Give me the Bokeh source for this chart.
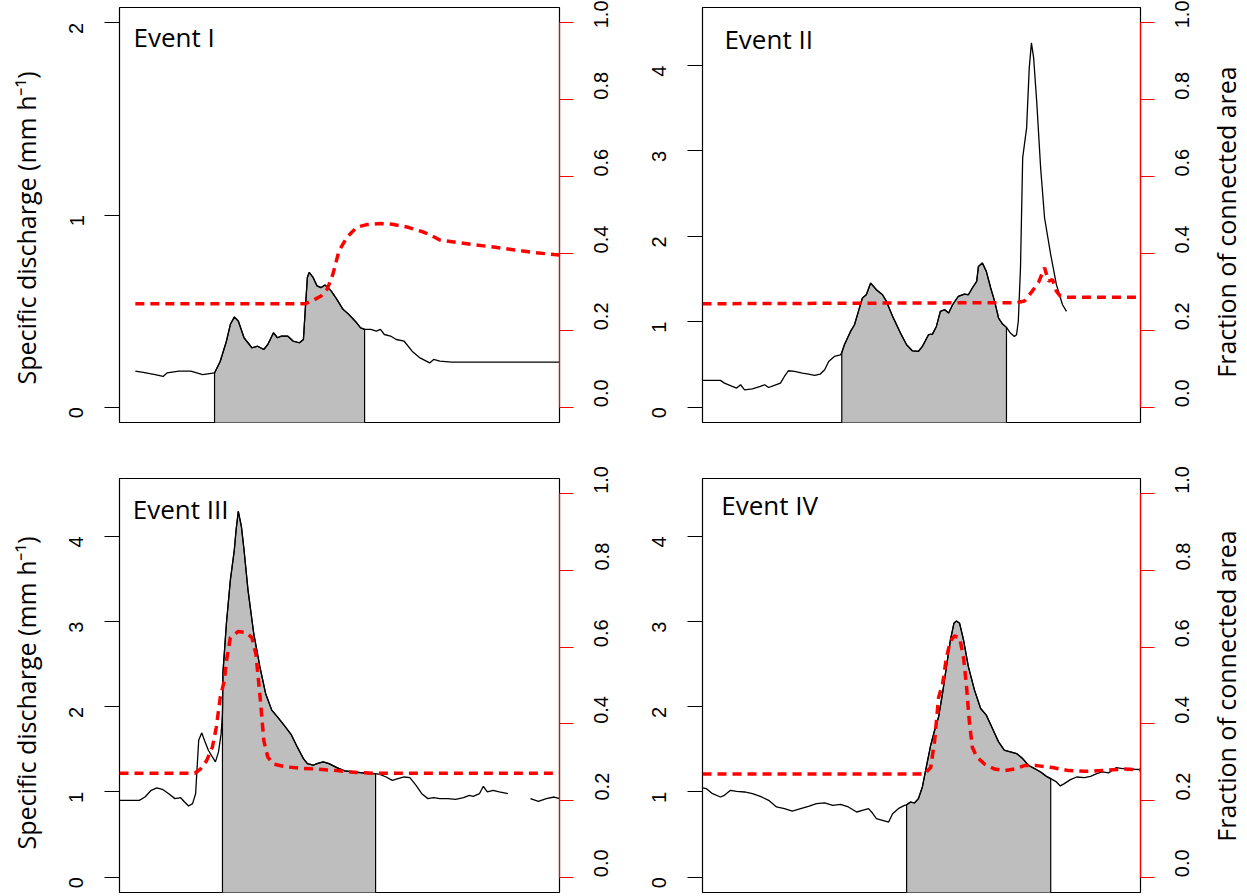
import math
from bokeh.plotting import figure
from bokeh.models import Range1d, LinearAxis, FixedTicker, PrintfTickFormatter, Label
from bokeh.core.properties import value
from bokeh.layouts import column, row
from bokeh.embed import file_html
from bokeh.resources import INLINE

# ---------------- data (time as % of event window) ----------------
ev1_t = [3.6, 5.4, 8.1, 9.9, 10.8, 13.5, 16.2, 18.9, 21.6, 22.9, 24.3, 25.2, 26.1, 27.0, 28.3, 30.1, 31.4, 32.8, 33.7,
         35.0, 35.9, 36.8, 38.2, 39.5, 40.9, 41.8, 42.2, 42.7, 43.1, 44.0, 44.9, 45.8, 46.7, 48.1, 49.4, 50.8, 52.1,
         53.9, 54.8, 55.7, 57.1, 58.4, 59.3, 60.2, 61.6, 62.9, 64.7, 66.5, 68.3, 70.5, 71.4, 72.8, 75.5, 80.9, 89.8, 100.0]
ev1_q = [0.187, 0.181, 0.169, 0.160, 0.178, 0.187, 0.187, 0.169, 0.178, 0.239, 0.343, 0.431, 0.469, 0.448, 0.361, 0.309,
         0.317, 0.300, 0.326, 0.387, 0.361, 0.370, 0.370, 0.343, 0.335, 0.352, 0.500, 0.675, 0.701, 0.675, 0.631, 0.622,
         0.636, 0.605, 0.561, 0.509, 0.483, 0.439, 0.413, 0.405, 0.405, 0.396, 0.405, 0.378, 0.370, 0.352, 0.343, 0.291,
         0.256, 0.230, 0.248, 0.239, 0.234, 0.234, 0.234, 0.234]
ev1_ft = [3.6, 42.2, 44.0, 45.8, 47.2, 48.5, 49.9, 51.7, 53.9, 56.2, 59.3, 62.0, 65.6, 69.2, 71.0, 72.8, 76.4, 80.9,
          85.4, 89.8, 94.3, 100.0]
ev1_f = [0.269, 0.269, 0.278, 0.289, 0.307, 0.346, 0.407, 0.442, 0.468, 0.475, 0.478, 0.476, 0.468, 0.455, 0.446, 0.435,
         0.429, 0.422, 0.416, 0.409, 0.402, 0.396]
ev1_fill = (21.6, 55.7)

ev2_t = [0.0, 4.1, 5.0, 6.8, 7.8, 8.7, 9.6, 11.4, 13.2, 14.2, 15.1, 16.4, 17.8, 18.7, 19.6, 21.0, 22.8, 24.2, 25.6, 26.9,
         27.9, 28.8, 30.1, 31.5, 31.8, 32.4, 33.8, 34.7, 35.6, 36.5, 37.4, 38.4, 39.7, 41.1, 42.0, 43.4, 45.2, 46.6, 47.9,
         49.3, 50.2, 51.6, 52.5, 53.4, 54.3, 55.3, 56.2, 57.1, 58.4, 59.8, 60.7, 61.6, 62.6, 63.0, 63.9, 64.8, 65.8, 66.7,
         67.6, 68.5, 69.4, 70.3, 71.2, 71.7, 72.1, 72.6, 73.1, 74.0, 74.6, 75.1, 75.6, 76.3, 77.2, 78.1, 79.5, 80.8, 82.2, 83.1]
ev2_q = [0.313, 0.313, 0.281, 0.242, 0.223, 0.262, 0.203, 0.215, 0.242, 0.262, 0.230, 0.254, 0.281, 0.359, 0.426, 0.418,
         0.398, 0.387, 0.371, 0.387, 0.438, 0.535, 0.594, 0.613, 0.640, 0.730, 0.887, 0.965, 1.121, 1.277, 1.316, 1.453,
         1.375, 1.316, 1.238, 1.063, 0.867, 0.730, 0.660, 0.652, 0.711, 0.848, 0.855, 0.945, 1.121, 1.141, 1.102, 1.199,
         1.297, 1.324, 1.316, 1.395, 1.473, 1.648, 1.688, 1.590, 1.395, 1.238, 1.043, 0.973, 0.934, 0.867, 0.828, 0.848,
         1.004, 1.629, 2.918, 3.270, 3.973, 4.266, 4.090, 3.582, 2.801, 2.215, 1.785, 1.434, 1.199, 1.121]
ev2_ft = [0.0, 71.7, 73.5, 75.3, 76.7, 78.1, 79.0, 79.9, 80.8, 81.7, 82.6, 86.3, 100.0]
ev2_f = [0.269, 0.272, 0.276, 0.302, 0.324, 0.363, 0.328, 0.332, 0.302, 0.289, 0.286, 0.286, 0.286]
ev2_fill = (31.8, 69.4)

nan = float("nan")
ev3_t = [0.0, 4.5, 5.8, 7.2, 8.5, 9.9, 11.2, 12.6, 13.9, 14.8, 15.7, 16.6, 17.3, 18.0, 18.7, 19.3, 20.2, 21.1, 21.8, 22.5,
         23.1, 23.4, 23.5, 24.3, 25.2, 26.1, 26.5, 27.0, 27.7, 28.3, 29.2, 30.5, 31.9, 33.2, 34.6, 35.9, 37.7, 39.1, 40.4,
         41.8, 42.7, 44.0, 44.9, 46.3, 47.6, 49.4, 51.2, 53.0, 54.8, 56.6, 58.2, 59.3, 60.6, 62.0, 63.3, 64.7, 66.0, 67.4,
         68.7, 70.1, 71.4, 72.8, 74.6, 76.4, 78.2, 79.5, 80.4, 81.8, 82.7, 83.6, 84.9, 86.3, 88.3, 90.0, 93.4, 95.2, 97.0,
         98.8, 100.0]
ev3_q = [0.902, 0.902, 0.941, 1.020, 1.047, 1.027, 0.980, 0.922, 0.933, 0.882, 0.835, 0.863, 0.980, 1.608, 1.694, 1.608,
         1.490, 1.412, 1.353, 1.471, 1.686, 1.922, 2.392, 2.980, 3.490, 3.843, 4.078, 4.294, 4.118, 3.843, 3.373, 2.863,
         2.471, 2.157, 1.961, 1.882, 1.765, 1.667, 1.529, 1.392, 1.333, 1.314, 1.333, 1.353, 1.333, 1.286, 1.247, 1.235,
         1.227, 1.216, 1.216, 1.204, 1.176, 1.137, 1.157, 1.176, 1.169, 1.078, 0.980, 0.922, 0.933, 0.922, 0.922, 0.914,
         0.933, 0.961, 0.949, 0.980, 1.067, 1.000, 1.020, 1.000, 0.980, nan, 0.922, 0.890, 0.922, 0.941, 0.922]
ev3_ft = [0.0, 17.1, 18.4, 19.8, 21.1, 22.0, 22.9, 23.8, 24.3, 25.2, 27.0, 28.8, 30.1, 31.0, 31.6, 32.1, 32.8, 33.7,
          35.0, 37.7, 41.3, 44.9, 49.4, 53.9, 58.4, 100.0]
ev3_f = [0.271, 0.271, 0.282, 0.304, 0.339, 0.391, 0.469, 0.512, 0.564, 0.625, 0.641, 0.638, 0.625, 0.582, 0.512, 0.451,
         0.356, 0.313, 0.295, 0.288, 0.284, 0.282, 0.278, 0.273, 0.271, 0.271]
ev3_fill = (23.4, 58.2)

ev4_t = [0.0, 0.9, 2.3, 4.1, 5.0, 6.4, 7.8, 9.6, 11.4, 13.2, 15.1, 16.9, 18.7, 20.5, 22.4, 24.2, 26.0, 27.9, 29.7, 31.5,
         33.3, 35.2, 36.5, 37.9, 38.8, 39.7, 41.1, 42.5, 43.4, 44.7, 46.1, 46.6, 47.5, 48.4, 49.3, 50.2, 51.1, 52.1, 53.0,
         53.9, 54.8, 55.7, 56.6, 57.4, 58.0, 58.7, 59.6, 60.7, 62.1, 63.5, 64.8, 66.2, 67.6, 68.9, 70.3, 71.7, 73.1, 74.4,
         75.8, 77.2, 78.5, 79.5, 80.8, 81.7, 82.6, 84.0, 85.4, 87.2, 88.6, 90.0, 91.3, 92.7, 94.5, 95.9, 97.3, 98.6, 100.0]
ev4_q = [1.047, 1.039, 0.980, 0.941, 0.961, 1.020, 1.008, 1.000, 0.980, 0.949, 0.902, 0.824, 0.804, 0.776, 0.804, 0.831,
         0.863, 0.871, 0.843, 0.855, 0.824, 0.765, 0.784, 0.804, 0.753, 0.686, 0.667, 0.647, 0.745, 0.804, 0.843, 0.850,
         0.882, 0.871, 0.922, 1.059, 1.294, 1.549, 1.725, 1.882, 2.157, 2.471, 2.784, 2.980, 3.008, 2.980, 2.784, 2.471,
         2.196, 1.980, 1.902, 1.745, 1.588, 1.490, 1.471, 1.451, 1.392, 1.314, 1.275, 1.235, 1.184, 1.157, 1.118, 1.071,
         1.098, 1.145, 1.176, 1.169, 1.184, 1.216, 1.235, 1.224, 1.286, 1.275, 1.275, 1.267, 1.263]
ev4_ft = [0.0, 50.7, 52.1, 53.0, 53.9, 54.8, 55.7, 56.6, 57.5, 58.7, 59.6, 60.3, 60.9, 61.6, 62.6, 64.4, 66.7, 68.9,
          71.2, 73.5, 76.3, 79.9, 83.6, 87.2, 90.9, 93.6, 96.3, 100.0]
ev4_f = [0.269, 0.269, 0.286, 0.356, 0.469, 0.503, 0.573, 0.616, 0.629, 0.625, 0.573, 0.495, 0.408, 0.339, 0.314, 0.295,
         0.282, 0.278, 0.282, 0.291, 0.291, 0.286, 0.278, 0.276, 0.278, 0.280, 0.282, 0.280]
ev4_fill = (46.6, 79.5)

event_names = ["Event I", "Event II", "Event III", "Event IV"]
q_limits = [2.0, 4.5, 4.5, 4.5]
q_ticks = [[0, 1, 2], [0, 1, 2, 3, 4], [0, 1, 2, 3, 4], [0, 1, 2, 3, 4]]
frac_ticks = [0.0, 0.2, 0.4, 0.6, 0.8, 1.0]
left_title = "Specific discharge (mm h\u207b\u00b9)"
right_title = "Fraction of connected area"

TITLE_FONT = "Open Sans"
TICK_FONT = "Liberation Sans"

# row geometry: (border_top, frame_height, border_bottom)
ROW_GEOM = [(7, 415, 28), (28, 414, 2)]


def make_panel(t, q, ft, f, fill, qmax, qticks, name, name_xy, col, rowi):
    if col == 0:
        mbl, fw, mbr = 73, 440, 71
    else:
        mbl, fw, mbr = 72, 438, 65
    mbt, fh, mbb = ROW_GEOM[rowi]
    p = figure(frame_width=fw, frame_height=fh,
               min_border_left=mbl, min_border_right=mbr, min_border_top=mbt, min_border_bottom=mbb,
               x_range=Range1d(0, 100), y_range=Range1d(-0.04 * qmax, 1.04 * qmax),
               x_axis_location=None, y_axis_location="left",
               output_backend="svg", toolbar_location=None, tools="")
    p.grid.grid_line_color = None
    p.outline_line_color = "black"
    p.outline_line_width = 1.2
    p.outline_line_alpha = 1.0
    p.background_fill_color = "white"
    p.border_fill_color = "white"

    yax = p.left[0]
    yax.ticker = FixedTicker(ticks=qticks)
    yax.bounds = (0, qticks[-1])
    yax.axis_line_color = None
    yax.major_tick_out = 15
    yax.major_tick_in = 0
    yax.major_tick_line_color = "black"
    yax.major_tick_line_width = 1.2
    yax.minor_tick_line_color = None
    yax.major_label_text_font = TICK_FONT
    yax.major_label_text_font_size = "20px"
    yax.major_label_text_color = "black"
    yax.major_label_orientation = math.pi / 2
    yax.major_label_standoff = 28

    p.extra_y_ranges = {"frac": Range1d(-0.04, 1.04)}
    rax = LinearAxis(y_range_name="frac", ticker=FixedTicker(ticks=frac_ticks),
                     formatter=PrintfTickFormatter(format="%.1f"), bounds=(0, 1))
    rax.axis_line_color = "red"
    rax.axis_line_width = 1.2
    rax.major_tick_out = 14
    rax.major_tick_in = 0
    rax.major_tick_line_color = "red"
    rax.major_tick_line_width = 1.2
    rax.minor_tick_line_color = None
    rax.major_label_text_font = TICK_FONT
    rax.major_label_text_font_size = "20px"
    rax.major_label_text_color = "black"
    rax.major_label_orientation = math.pi / 2
    rax.major_label_standoff = 28
    p.add_layout(rax, "right")

    # shaded event area under the hydrograph
    fs, fe = fill
    sel = [i for i, x in enumerate(t) if fs <= x <= fe]
    px = [fs] + [t[i] for i in sel] + [fe]
    base = -1.0
    py = [base] + [q[i] for i in sel] + [base]
    p.patch(px, py, fill_color="#BEBEBE", line_color="black", line_width=1.2)

    p.line(t, q, line_color="black", line_width=1.3)
    p.line(ft, f, y_range_name="frac", line_color="red", line_width=3.5, line_dash="9 6")

    p.add_layout(Label(x=name_xy[0], y=name_xy[1], text=name, text_font=TITLE_FONT,
                       text_font_size="26px", text_color="black", text_baseline="alphabetic"))
    return p


def title_strip(text, rowi, width, xc, yc_page, page_top):
    # a narrow, axis-less strip whose frame lines up with the panels' frames;
    # its y range is expressed in page pixels (top -> bottom)
    mbt, fh, mbb = ROW_GEOM[rowi]
    ftop = page_top + mbt
    s = figure(frame_width=width, frame_height=fh,
               min_border_left=0, min_border_right=0, min_border_top=mbt, min_border_bottom=mbb,
               x_range=Range1d(0, width), y_range=Range1d(ftop + fh, ftop),
               x_axis_location=None, y_axis_location=None,
               output_backend="svg", toolbar_location=None, tools="")
    s.outline_line_color = None
    s.grid.grid_line_color = None
    s.background_fill_color = "white"
    s.border_fill_color = "white"
    s.text(x=[xc], y=[yc_page], text=[text], angle=math.pi / 2,
           text_font=value(TITLE_FONT), text_font_size=value("25px"), text_color="black",
           text_align="center", text_baseline="middle")
    return s


p1 = make_panel(ev1_t, ev1_q, ev1_ft, ev1_f, ev1_fill, q_limits[0], q_ticks[0], event_names[0], (3.2, 1.925), 0, 0)
p2 = make_panel(ev2_t, ev2_q, ev2_ft, ev2_f, ev2_fill, q_limits[1], q_ticks[1], event_names[1], (5.0, 4.31), 1, 0)
p3 = make_panel(ev3_t, ev3_q, ev3_ft, ev3_f, ev3_fill, q_limits[2], q_ticks[2], event_names[2], (3.0, 4.32), 0, 1)
p4 = make_panel(ev4_t, ev4_q, ev4_ft, ev4_f, ev4_fill, q_limits[3], q_ticks[3], event_names[3], (4.3, 4.37), 1, 1)

row0_top = 0
row1_top = sum(ROW_GEOM[0])
lt1 = title_strip(left_title, 0, 46, 25, 227.5, row0_top)
lt2 = title_strip(left_title, 1, 46, 25, 692.5, row1_top)
rt1 = title_strip(right_title, 0, 40, 20, 221.5, row0_top)
rt2 = title_strip(right_title, 1, 40, 20, 685.5, row1_top)

layout = column(row(lt1, p1, p2, rt1), row(lt2, p3, p4, rt2))
open("out.html", "w").write(file_html(layout, INLINE))
